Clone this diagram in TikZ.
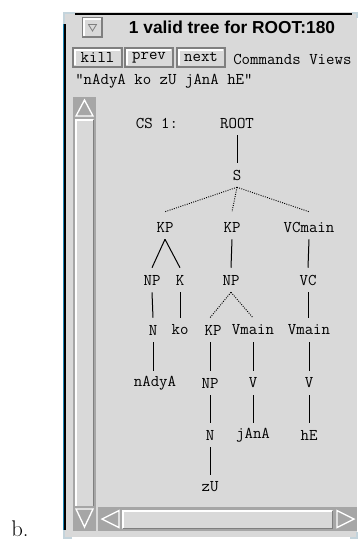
\documentclass[tikz,border=0pt]{standalone}
\usepackage{fontspec}
\newfontfamily\titlefont{Liberation Sans}
\usetikzlibrary{calc}
\definecolor{wbg}{HTML}{D9D9D9}
\definecolor{trough}{HTML}{A6A6A6}
\definecolor{darkedge}{HTML}{7F7F7F}
\definecolor{frameblue}{HTML}{1E88B8}
\definecolor{cornerc}{HTML}{C4D4DC}
\newcommand\monotext{\fontsize{12.3}{14}\selectfont\ttfamily}
\begin{document}
\begin{tikzpicture}[x=0.75pt,y=-0.75pt,
  tn/.style={font=\monotext, inner sep=0pt, minimum height=18pt},
  solidedge/.style={line width=0.75pt},
  dotedge/.style={line width=0.7pt, densely dotted},
  btn/.style={draw=darkedge, fill=wbg, line width=0.8pt, inner sep=0pt,
    minimum height=14.25pt, minimum width=36pt,
    font=\monotext,
    path picture={\draw[white,line width=1.5pt]
      ($(path picture bounding box.south west)+(1.6pt,1.6pt)$) |-
      ($(path picture bounding box.north east)+(-1.6pt,-1.6pt)$);}},
  arrowtri/.style={draw=white, line width=1pt, line join=miter, fill=trough}
]
\useasboundingbox (0,0) rectangle (359,540);

% window body
\fill[wbg] (63,12) rectangle (357,537);
\draw[frameblue, line width=0.8pt] (63.4,24) -- (63.4,530);
\draw[black, line width=1.3pt] (65,24) -- (65,530);
\draw[black, line width=1.3pt] (75,14) -- (352,14);
\draw[cornerc, line width=1.5pt] (64,24) -- (64,13) -- (75,13);
\draw[cornerc, line width=1.5pt] (64,530) -- (64,538) -- (72,538);
\draw[cornerc, line width=1.2pt] (352,13) -- (357,13) -- (357,18);
\draw[cornerc, line width=1.2pt] (350,538) -- (357,538) -- (357,532);

% title bar
\draw[darkedge, line width=0.8pt, fill=wbg] (83,18) rectangle (102,37);
\draw[white, line width=1pt] (84,36) -- (84,19) -- (101,19);
\draw[darkedge, line width=0.6pt] (88.5,24.5) -- (96.5,24.5) -- (92.5,31) -- cycle;
\node[font=\titlefont\bfseries\fontsize{13}{15}\selectfont, inner sep=0pt] (title) at (232,27) {1 valid tree for ROOT:180};

% buttons
\node[btn, minimum width=36.75pt] (kill) at (97.5,57.5) {kill};
\node[btn, minimum width=36pt] (prev) at (149,57.5) {prev};
\node[btn, minimum width=36pt] (next) at (201,57.5) {next};
\node[anchor=west, inner sep=0pt, font=\monotext] (cmds) at (233,59) {Commands Views};
\node[anchor=west, inner sep=0pt, font=\monotext] (sent) at (75,81) {"nAdyA ko zU jAnA hE"};

% vertical scrollbar
\fill[trough] (73,97) rectangle (96,531);
\fill[wbg] (75,119) rectangle (94,506);
\draw[white, line width=1.4pt] (76,506) -- (76,120) -- (93,120);
\draw[darkedge, line width=1pt] (93.5,120) -- (93.5,506);
\draw[arrowtri] (84.5,100) -- (93,116) -- (76,116) -- cycle;
\draw[arrowtri] (76,509) -- (93,509) -- (84.5,527) -- cycle;

% horizontal scrollbar
\fill[trough] (98,507) rectangle (357,531);
\fill[wbg] (122,510) rectangle (333,529);
\draw[white, line width=1.4pt] (123,528) -- (123,511) -- (332,511);
\draw[darkedge, line width=1pt] (123,528.5) -- (332.5,528.5) -- (332.5,511);
\draw[arrowtri] (102,519) -- (119,510.5) -- (119,527.5) -- cycle;
\draw[arrowtri] (354,519) -- (337,510.5) -- (337,527.5) -- cycle;

% tree
\node[tn] (cs) at (157,123) {CS 1:};
\node[tn] (root) at (237,123) {ROOT};
\node[tn] (s) at (237,175) {S};
\node[tn] (kp1) at (165,227) {KP};
\node[tn] (kp2) at (232,227) {KP};
\node[tn] (vcm) at (309,227) {VCmain};
\node[tn] (np1) at (152,280) {NP};
\node[tn] (k) at (180,280) {K};
\node[tn] (np2) at (231,280) {NP};
\node[tn] (vc) at (308,280) {VC};
\node[tn] (n1) at (153,330) {N};
\node[tn] (ko) at (180,330) {ko};
\node[tn] (kp3) at (213,330) {KP};
\node[tn] (vm1) at (253,330) {Vmain};
\node[tn] (vm2) at (309,330) {Vmain};
\node[tn] (nadya) at (155,383) {nAdyA};
\node[tn] (np3) at (210,383) {NP};
\node[tn] (v1) at (253,383) {V};
\node[tn] (v2) at (309,383) {V};
\node[tn] (n2) at (210,435) {N};
\node[tn] (jana) at (253,435) {jAnA};
\node[tn] (he) at (309,435) {hE};
\node[tn] (zu) at (210,487) {zU};

\draw[solidedge] (root.south) -- (s.north);
\draw[dotedge] (s.south) -- ($(kp1.north)+(0,-3)$);
\draw[dotedge] (s.south) -- ($(kp2.north)+(0,-3)$);
\draw[dotedge] (s.south) -- ($(vcm.north)+(0,-3)$);
\draw[solidedge] (kp1.south) -- (np1.north);
\draw[solidedge] (kp1.south) -- (k.north);
\draw[solidedge] (kp2.south) -- (np2.north);
\draw[solidedge] (vcm.south) -- (vc.north);
\draw[solidedge] (np1.south) -- (n1.south |- n1.north);
\draw[solidedge] (k.south) -- (k.south |- ko.north);
\draw[dotedge] (np2.south) -- ($(kp3.north)+(-3,0)$);
\draw[dotedge] (np2.south) -- (vm1.north);
\draw[solidedge] (vc.south) -- (vc.south |- vm2.north);
\draw[solidedge] (n1.south) -- (n1.south |- nadya.north);
\draw[solidedge] ($(kp3.south)+(-3,0)$) -- (np3.north);
\draw[solidedge] (vm1.south) -- (v1.north);
\draw[solidedge] (vm2.south) -- (v2.north);
\draw[solidedge] (np3.south) -- (n2.north);
\draw[solidedge] (v1.south) -- (jana.north);
\draw[solidedge] (v2.south) -- (he.north);
\draw[solidedge] (n2.south) -- (zu.north);

% label
\node[anchor=base west, inner sep=0pt, font=\fontsize{17}{20}\selectfont] (lbl) at (11,536) {b.};
\end{tikzpicture}
\end{document}
